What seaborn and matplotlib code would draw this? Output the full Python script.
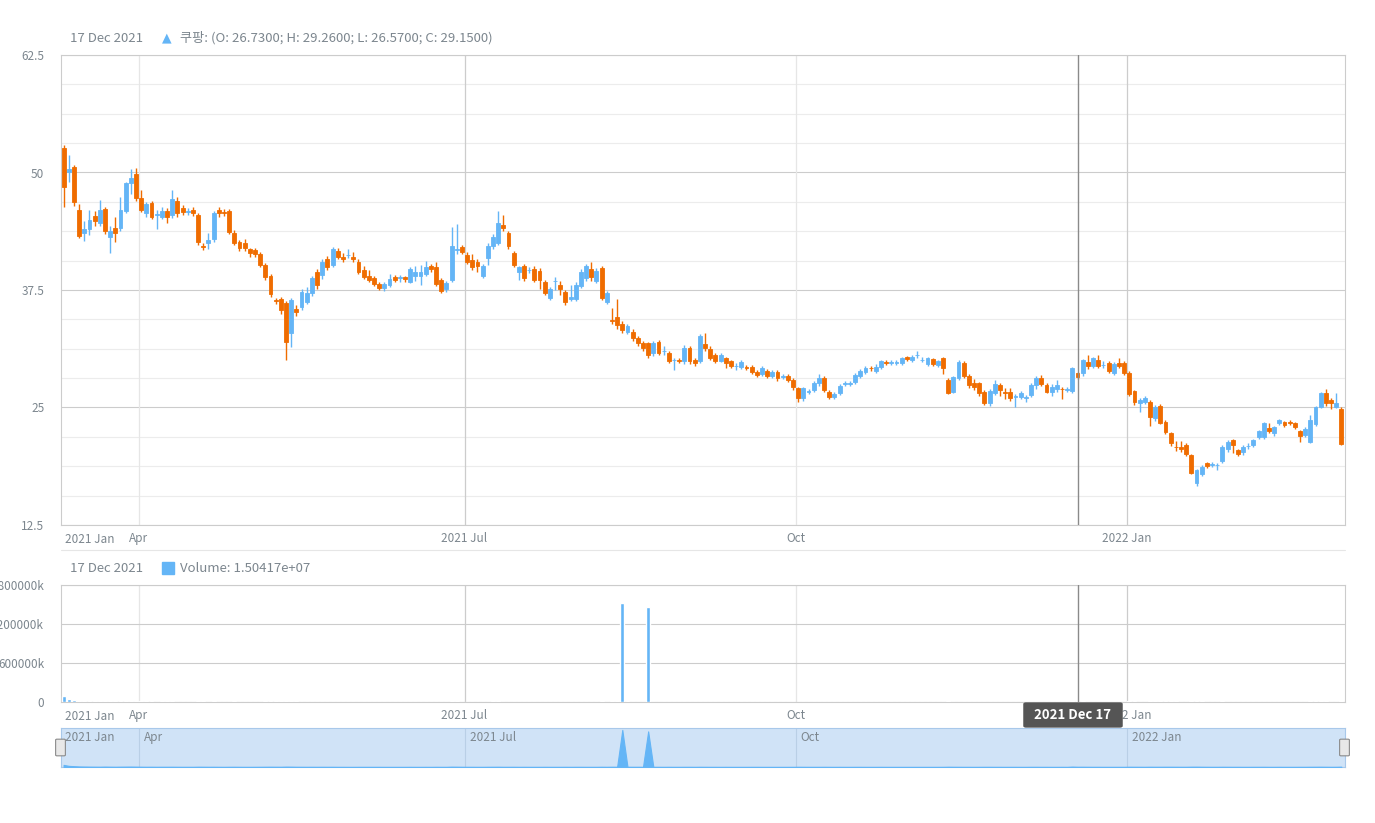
import numpy as np
import pandas as pd
import matplotlib
matplotlib.use("Agg")
import matplotlib.pyplot as plt
from matplotlib.patches import Rectangle, FancyBboxPatch
import seaborn as sns

sns.set_style("white")
plt.rcParams['font.family'] = ['Noto Sans CJK KR', 'DejaVu Sans']

opens = [52.57,50.1,50.62,46.0,43.6,43.95,45.37,44.66,46.08,43.17,44.06,44.06,45.94,48.85,49.84,47.25,45.65,46.79,45.5,45.3,
45.94,45.48,47.0,46.19,45.85,46.0,45.48,42.15,42.46,42.89,46.0,45.83,45.94,43.6,42.57,42.5,41.82,41.75,41.33,40.16,
38.99,36.4,36.54,36.08,32.96,35.48,35.7,36.26,37.14,39.38,39.1,40.8,40.16,41.65,41.05,41.18,41.05,40.52,39.63,38.99,
38.74,38.14,37.68,38.03,38.85,38.78,38.85,38.39,39.03,39.03,39.2,40.06,39.98,38.57,37.57,38.57,41.8,42.11,41.23,40.7,
40.52,39.03,40.87,42.18,42.54,44.42,43.6,41.47,39.45,40.06,39.6,39.7,39.52,38.39,36.68,38.43,38.03,37.32,36.55,36.5,
37.96,38.74,39.7,38.46,39.81,36.26,34.3,34.67,33.9,33.07,33.07,32.36,31.9,31.83,30.77,32.0,30.98,30.84,30.04,30.02,
29.9,31.37,30.06,29.9,31.76,31.2,30.6,30.0,30.24,29.9,29.4,29.35,29.26,29.35,28.8,28.57,28.9,28.36,28.8,28.26,
28.36,27.93,27.04,25.98,26.68,26.87,27.57,28.1,26.69,26.16,26.58,27.55,27.55,27.75,28.36,28.82,29.19,28.9,29.35,29.88,
29.7,29.7,29.7,30.34,30.06,30.56,30.03,29.63,30.12,29.52,30.23,27.93,26.68,28.1,29.7,28.35,27.57,27.57,26.68,25.44,
26.58,27.39,26.6,26.68,26.13,26.15,26.06,26.33,27.39,28.1,27.39,26.68,26.93,26.95,26.91,26.73,28.64,28.64,29.88,29.42,
30.05,29.5,29.7,28.7,29.77,29.7,28.7,26.79,25.44,25.62,25.62,23.85,25.16,23.49,22.25,20.8,20.76,21.01,19.95,16.93,
17.93,19.06,18.93,18.86,19.34,20.55,21.54,20.48,20.3,20.88,21.01,21.9,21.9,22.78,22.25,23.32,23.49,23.41,23.32,22.5,
22.07,21.37,23.25,25.09,26.5,25.8,25.09,24.8]
closes = [48.49,50.4,46.9,43.24,43.95,44.95,44.88,46.0,43.81,43.77,43.53,46.0,48.85,49.38,47.32,46.0,46.65,45.23,45.55,45.94,
45.23,47.14,45.73,45.83,45.9,45.73,42.64,42.1,42.82,45.65,45.65,45.65,43.7,42.53,41.93,42.0,41.47,41.33,40.16,38.92,
37.07,36.36,35.37,32.0,36.43,35.2,37.32,37.22,38.74,38.03,40.5,39.9,41.82,41.05,40.8,41.2,40.8,39.45,38.92,38.57,
38.14,37.75,38.1,38.67,38.57,38.8,38.64,39.74,39.45,39.45,39.98,39.7,38.1,37.43,38.28,42.18,41.83,41.58,40.52,39.91,
40.06,40.06,42.18,43.18,44.6,44.06,42.18,40.16,39.91,38.74,39.63,38.57,38.57,37.22,37.57,38.46,37.57,36.26,36.79,38.03,
39.45,40.06,38.85,39.52,36.68,37.22,34.24,33.78,33.25,33.67,32.36,31.83,31.3,30.59,31.9,30.84,31.0,29.99,30.06,30.0,
31.37,29.9,29.7,32.6,31.3,30.24,30.0,30.6,29.77,29.42,29.42,29.8,29.24,28.8,28.46,29.17,28.36,28.8,28.1,28.28,
27.93,27.15,25.98,27.04,26.7,27.57,28.1,26.87,26.16,26.4,27.3,27.57,27.57,28.46,28.9,29.17,29.17,29.35,29.95,29.7,
29.88,29.88,30.24,30.13,30.41,30.58,30.05,30.23,29.63,29.98,29.17,26.58,28.21,29.88,28.35,27.39,27.14,26.5,25.51,26.79,
27.5,26.86,26.58,25.97,26.15,26.58,26.08,27.39,28.1,27.5,26.68,27.21,27.39,26.93,26.93,29.15,28.21,30.05,29.42,30.23,
29.42,29.52,28.92,29.63,29.42,28.7,26.43,25.55,25.8,25.98,24.03,25.09,23.39,22.43,21.26,20.76,20.55,20.05,18.07,18.35,
18.71,18.78,18.95,18.88,20.83,21.37,21.01,20.02,20.83,20.9,21.54,22.5,23.32,22.53,22.89,23.67,23.14,23.39,22.96,21.97,
22.68,23.67,25.02,26.58,25.44,25.44,25.51,21.12]
highs = [52.9,51.9,50.8,46.6,44.8,46.0,45.9,47.1,46.3,44.3,45.3,47.4,49.0,50.4,50.5,48.1,46.9,47.0,46.0,46.3,
46.2,48.1,47.4,46.5,46.2,46.3,45.7,42.5,43.6,45.9,46.3,46.1,46.1,43.9,42.8,42.9,42.0,42.0,41.5,40.4,
39.2,36.6,36.8,36.3,36.6,35.9,37.6,37.8,39.0,39.7,40.8,41.1,42.1,42.0,41.4,41.9,41.5,40.8,40.0,39.6,
39.0,38.4,38.3,39.2,39.1,39.1,39.0,39.9,40.0,40.2,40.6,40.3,40.5,38.8,38.5,44.2,44.5,42.3,41.5,41.3,
40.8,40.3,42.5,43.5,45.9,45.5,43.8,41.7,40.1,40.3,39.9,40.0,39.8,38.6,37.8,38.9,38.5,37.5,38.0,38.3,
39.7,40.3,40.5,39.8,40.0,37.4,35.6,36.5,34.2,33.9,33.3,32.6,32.1,32.0,32.1,32.2,31.5,31.0,30.3,30.3,
31.6,31.5,30.3,32.8,32.9,31.5,30.8,30.8,30.4,30.1,29.7,30.0,29.5,29.5,29.0,29.4,29.1,29.0,29.0,28.6,
28.6,28.1,27.2,27.2,27.0,27.8,28.6,28.3,26.9,26.6,27.5,27.8,27.8,28.7,29.1,29.4,29.4,29.6,30.1,30.1,
30.0,30.1,30.4,30.5,30.6,31.0,30.4,30.4,30.3,30.1,30.4,28.1,28.4,30.1,29.9,28.6,28.0,27.7,26.9,27.0,
27.9,27.6,27.1,27.1,26.4,26.8,26.3,27.6,28.3,28.5,27.6,27.5,27.9,27.2,27.2,29.26,28.8,30.2,30.6,30.4,
30.6,29.9,29.9,29.8,30.3,29.9,28.9,26.9,26.0,26.2,25.8,25.3,25.4,23.7,22.4,21.4,21.4,21.2,20.1,18.5,
18.9,19.2,19.2,19.1,21.0,21.5,21.7,20.6,21.0,21.2,21.7,22.6,23.5,23.3,23.0,23.8,23.6,23.7,23.5,22.6,
22.9,24.2,25.2,26.7,27.0,26.0,26.5,25.0]
lows = [46.3,49.0,46.4,43.0,42.7,43.4,44.3,44.3,43.5,41.4,42.6,43.8,45.7,47.7,47.0,45.8,45.3,45.0,44.0,45.0,
44.6,45.2,45.3,45.5,45.5,45.4,42.3,41.8,41.9,42.6,45.3,45.4,43.5,42.3,41.6,41.7,41.0,41.0,39.9,38.6,
36.8,36.0,34.9,30.1,31.4,34.7,35.4,36.0,36.9,37.6,38.7,39.6,39.9,40.8,40.5,40.9,40.5,39.2,38.7,38.3,
37.9,37.5,37.4,37.8,38.3,38.4,38.4,38.2,38.5,38.0,39.0,39.4,37.9,37.2,37.3,38.3,41.3,41.3,40.3,39.6,
39.4,38.8,40.2,41.9,42.3,43.8,41.9,39.9,38.6,38.5,39.3,38.3,37.6,37.0,36.4,37.5,37.0,35.9,36.3,36.3,
37.7,38.5,38.5,38.2,36.4,36.0,33.9,33.4,32.9,32.8,32.1,31.5,31.0,30.3,30.5,30.6,30.6,29.7,29.0,29.7,
29.6,29.6,29.4,29.7,31.0,30.0,29.7,29.8,29.2,29.2,29.0,29.1,29.0,28.6,28.2,28.3,28.1,28.1,27.8,28.0,
27.7,26.9,25.6,25.7,26.4,26.6,27.3,26.6,25.9,25.9,26.3,27.3,27.3,27.5,28.1,28.6,28.9,28.7,29.1,29.5,
29.5,29.5,29.5,29.9,29.8,30.3,29.8,29.4,29.4,29.3,28.6,26.4,26.5,27.9,28.1,27.1,26.9,26.2,25.3,25.2,
26.3,26.2,25.9,25.7,25.0,25.9,25.6,26.1,27.0,27.3,26.5,26.2,26.7,25.9,26.7,26.57,28.0,28.4,29.1,29.2,
29.2,29.2,28.7,28.5,29.2,28.5,26.2,25.3,24.5,25.4,23.0,23.6,23.2,22.2,20.9,20.4,20.3,19.8,17.9,16.6,
17.7,18.6,18.7,18.3,19.1,20.3,20.2,19.8,19.9,20.6,20.8,21.7,21.7,22.3,22.0,23.1,22.9,23.1,22.7,21.3,
21.9,21.2,23.0,24.9,25.2,24.8,24.9,21.0]
# volume in millions of shares
volumes = [87,47,33,22,18,14,12,10,15,11,9,12,14,16,13,10,8,9,7,8,
8,9,7,6,6,6,10,9,7,8,6,5,7,8,6,5,5,6,7,9,
10,9,8,14,12,8,7,6,7,6,7,6,7,5,5,4,4,5,5,5,
5,5,4,4,4,4,4,5,4,4,5,4,6,5,5,12,10,7,6,6,
5,5,7,8,9,6,6,7,5,6,5,5,5,6,5,5,5,6,5,6,
6,5,5,5,8,6,9,8,1523,8,7,7,6,1462,6,6,5,6,5,5,
6,6,5,7,6,5,5,4,5,4,4,4,4,5,5,4,4,4,4,4,
4,5,7,6,5,5,5,6,5,4,5,4,4,5,5,4,4,4,5,4,
4,4,4,4,4,4,4,4,4,4,5,9,7,6,5,5,4,5,6,6,
5,5,4,5,5,4,4,6,6,5,5,4,4,5,4,15,8,9,7,6,
6,5,5,5,5,5,9,8,7,6,9,8,8,9,9,8,7,7,11,12,
9,7,6,6,8,7,6,6,5,5,6,6,7,5,5,6,5,5,5,6,
6,8,9,10,8,6,7,12]
tick_labels = ["Apr", "2021 Jul", "Oct", "2022 Jan"]
tick_dates = ["2021-04-01", "2021-07-01", "2021-10-01", "2022-01-01"]
cross_date = "2021-12-17"

holidays = ["2021-04-02", "2021-05-31", "2021-07-05", "2021-09-06", "2021-11-25",
            "2021-12-24", "2022-01-17", "2022-02-21"]
cbd = pd.offsets.CustomBusinessDay(holidays=holidays)
dates = pd.date_range("2021-03-11", periods=len(closes), freq=cbd)

df = pd.DataFrame({"date": dates, "open": opens, "high": highs, "low": lows,
                   "close": closes, "volume": np.array(volumes) * 1e6})
df["up"] = df["close"] >= df["open"]
df["i"] = np.arange(len(df))

UP = "#64b5f6"
DOWN = "#ef6c00"
TXT = "#7c868e"

W, H = 1375, 823
fig = plt.figure(figsize=(W / 100, H / 100), dpi=100)

def rect(l, t, r, b):
    return [l / W, 1 - b / H, (r - l) / W, (b - t) / H]

ax = fig.add_axes(rect(61, 55, 1345, 525))
axv = fig.add_axes(rect(61, 585, 1345, 702))
axn = fig.add_axes(rect(61, 728, 1345, 767))

xi = df["i"].values
x0, x1 = -0.5, len(df) - 0.3
cw = 0.75

def pos_of(d):
    return float(np.searchsorted(df["date"].values, np.datetime64(pd.Timestamp(d)))) - 0.5

tpos = [pos_of(d) for d in tick_dates]
crossx = float(np.searchsorted(df["date"].values, np.datetime64(pd.Timestamp(cross_date))))

colors = np.where(df["up"], UP, DOWN)
ax.vlines(xi, df["low"], df["high"], colors=colors, lw=1, zorder=3)
bottoms = np.minimum(df["open"], df["close"])
heights = np.maximum(np.abs(df["close"] - df["open"]), 0.06)
ax.bar(xi, heights, bottom=bottoms, width=cw, color=colors, edgecolor=colors, lw=0.6, zorder=4)

ax.set_xlim(x0, x1)
ax.set_ylim(12.5, 62.5)
major_y = [12.5, 25, 37.5, 50, 62.5]
ax.set_yticks(major_y)
ax.set_yticklabels(["12.5", "25", "37.5", "50", "62.5"])
for v in np.arange(12.5, 62.6, 3.125):
    ax.axhline(v, color="#cccccc" if v in major_y else "#ececec", lw=0.8, zorder=1)

tick_cols = ["#e6e6e6", "#cccccc", "#e6e6e6", "#cccccc"]

for a in (ax, axv):
    for t, c in zip(tpos, tick_cols):
        a.axvline(t, color=c, lw=0.9, zorder=1)
    a.set_xticks(tpos)
    a.set_xticklabels(tick_labels)
    a.tick_params(axis="x", length=0, labelsize=8.5, labelcolor=TXT, pad=5)
    a.tick_params(axis="y", length=0, labelsize=8.5, labelcolor=TXT, pad=12)
    for s in a.spines.values():
        s.set_color("#cccccc")
        s.set_linewidth(0.8)
    a.axvline(crossx, color="#8a8a8a", lw=1.0, zorder=5)
    a.text(4 / 1284, -0.018 * (470 / a.bbox.height * 1.0) if a is ax else -0.07,
           "2021 Jan", transform=a.transAxes, ha="left", va="top",
           fontsize=8.5, color=TXT)

# volume panel
axv.bar(xi, df["volume"], width=cw, color=UP, zorder=3)
axv.set_xlim(x0, x1)
axv.set_ylim(0, 1.8e9)
vt = [0, 6e8, 1.2e9, 1.8e9]
axv.set_yticks(vt)
axv.set_yticklabels(["0", "600000k", "1200000k", "1800000k"])
for v in vt:
    axv.axhline(v, color="#cccccc", lw=0.8, zorder=1)

# navigator
axn.set_facecolor("#d0e3f7")
axn.fill_between(xi, df["volume"], color=UP, lw=0.8, zorder=3)
axn.set_xlim(x0, x1)
axn.set_ylim(0, 1.6e9)
axn.set_xticks([]); axn.set_yticks([])
for s in axn.spines.values():
    s.set_color("#a8c8ea")
for t, lab in zip(tpos, tick_labels):
    axn.axvline(t, color="#b9cfe6", lw=0.8, zorder=2)
    axn.text(t + 1.0, 0.93, lab, fontsize=8.5, color=TXT, va="top", ha="left",
             transform=axn.get_xaxis_transform())
axn.text(x0 + 0.8, 0.93, "2021 Jan", fontsize=8.5, color=TXT, va="top", ha="left",
         transform=axn.get_xaxis_transform())
for hx in (57, 1341):
    fig.patches.append(FancyBboxPatch((hx / W, 1 - 755 / H), 7 / W, 15 / H,
                       boxstyle="round,pad=0.001", transform=fig.transFigure,
                       facecolor="#e8e8e8", edgecolor="#8a8a8a", lw=0.8, zorder=10))

# separator line between panels
fig.add_artist(plt.Line2D([61 / W, 1345 / W], [1 - 550 / H, 1 - 550 / H],
                          transform=fig.transFigure, color="#e6e6e6", lw=0.8))

# headers
fig.text(70 / W, 1 - 38 / H, "17 Dec 2021", fontsize=9.5, color=TXT, va="center")
fig.text(162 / W, 1 - 38 / H, "▲", fontsize=9, color=UP, va="center",
         family=["DejaVu Sans"])
fig.text(180 / W, 1 - 38 / H, "쿠팡: (O: 26.7300; H: 29.2600; L: 26.5700; C: 29.1500)",
         fontsize=9.5, color=TXT, va="center")
fig.text(70 / W, 1 - 568 / H, "17 Dec 2021", fontsize=9.5, color=TXT, va="center")
fig.patches.append(Rectangle((162 / W, 1 - 574 / H), 12 / W, 12 / H,
                             transform=fig.transFigure, color=UP))
fig.text(180 / W, 1 - 568 / H, "Volume: 1.50417e+07", fontsize=9.5, color=TXT, va="center")

# crosshair tooltip
fig.patches.append(FancyBboxPatch((1026 / W, 1 - 726 / H), 94 / W, 22 / H,
                   boxstyle="round,pad=0.002", transform=fig.transFigure,
                   facecolor="#555555", edgecolor="none", zorder=12))
fig.text(1073 / W, 1 - 715 / H, "2021 Dec 17", fontsize=9.5, color="white",
         weight="bold", ha="center", va="center", zorder=13)

fig.savefig("out.png", dpi=100)
